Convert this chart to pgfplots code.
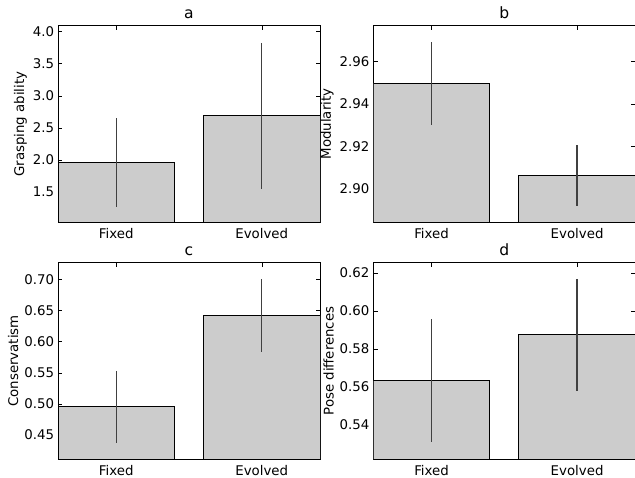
\documentclass[border=0pt]{standalone}
\usepackage{fontspec}
\setmainfont{DejaVu Sans}
\usepackage{pgfplots}
\pgfplotsset{compat=1.18}
\definecolor{barfill}{HTML}{CCCCCC}
\pgfplotsset{
  mpl/.style={
    scale only axis, width=235.8pt, height=177pt,
    xmin=-0.4, xmax=1.4, xtick={0,1}, xticklabels={Fixed,Evolved},
    tick align=inside, major tick length=4pt,
    tick style={line width=0.5pt, black},
    axis line style={line width=0.9pt},
    /pgf/number format/assume math mode=true,
    tick label style={font=\fontsize{12}{14}\selectfont},
    xticklabel style={yshift=-1.5pt},
    label style={font=\fontsize{12}{14}\selectfont},
    ylabel style={yshift=-1.5pt},
    title style={font=\fontsize{14}{16}\selectfont, yshift=-3.5pt},
    anchor=north west,
  },
  barplot/.style={ybar, bar width=0.8, fill=barfill, draw=black, line width=0.9pt,
    error bars/.cd, y dir=both, y explicit, error mark=none,
    error bar style={line width=1.1pt, draw=black!75}},
}
\begin{document}
\begin{tikzpicture}
\begin{axis}[mpl, at={(52.2pt,-23.13pt)}, title={a}, ylabel={Grasping ability},
  ymin=1.027, ymax=4.093, ytick={1.5,2.0,2.5,3.0,3.5,4.0},
  yticklabel style={/pgf/number format/.cd, fixed, fixed zerofill, precision=1}]
\addplot[barplot] coordinates {(0,1.959) +- (0,0.693) (1,2.692) +- (0,1.137)};
\end{axis}
\begin{axis}[mpl, at={(335.97pt,-23.13pt)}, title={b}, ylabel={Modularity},
  ymin=2.8841, ymax=2.977, ytick={2.90,2.92,2.94,2.96},
  yticklabel style={/pgf/number format/.cd, fixed, fixed zerofill, precision=2}]
\addplot[barplot] coordinates {(0,2.9498) +- (0,0.0195) (1,2.9061) +- (0,0.0145)};
\end{axis}
\begin{axis}[mpl, at={(52.2pt,-236.43pt)}, title={c}, ylabel={Conservatism},
  ymin=0.411, ymax=0.7267, ytick={0.45,0.50,0.55,0.60,0.65,0.70},
  yticklabel style={/pgf/number format/.cd, fixed, fixed zerofill, precision=2}]
\addplot[barplot] coordinates {(0,0.4955) +- (0,0.058) (1,0.6420) +- (0,0.058)};
\end{axis}
\begin{axis}[mpl, at={(335.97pt,-236.43pt)}, title={d}, ylabel={Pose differences},
  ymin=0.522, ymax=0.6253, ytick={0.54,0.56,0.58,0.60,0.62},
  yticklabel style={/pgf/number format/.cd, fixed, fixed zerofill, precision=2}]
\addplot[barplot] coordinates {(0,0.5632) +- (0,0.0323) (1,0.5874) +- (0,0.0295)};
\end{axis}
\pgfresetboundingbox
\path[use as bounding box] (0,0) rectangle (571.5pt,-429.3pt);
\end{tikzpicture}
\end{document}
